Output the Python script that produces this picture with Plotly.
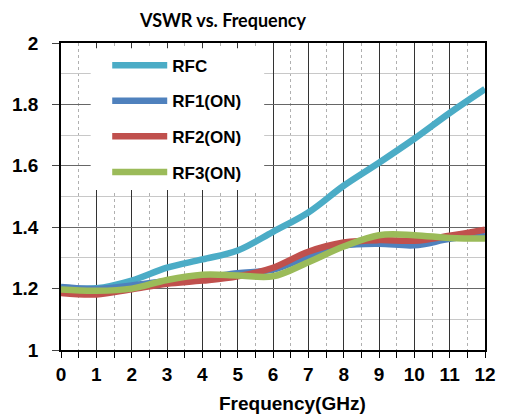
import plotly.graph_objects as go

freq = [0, 1, 2, 3, 4, 5, 6, 7, 8, 9, 10, 11, 12]
rfc = [1.204, 1.201, 1.226, 1.268, 1.295, 1.324, 1.385, 1.448, 1.535, 1.610, 1.688, 1.772, 1.850]
rf1 = [1.205, 1.199, 1.210, 1.225, 1.235, 1.250, 1.262, 1.305, 1.340, 1.346, 1.341, 1.362, 1.376]
rf2 = [1.186, 1.181, 1.198, 1.216, 1.226, 1.240, 1.268, 1.320, 1.350, 1.358, 1.356, 1.372, 1.392]
rf3 = [1.197, 1.193, 1.200, 1.228, 1.245, 1.243, 1.240, 1.286, 1.337, 1.374, 1.374, 1.365, 1.363]

series = [
    ("RFC", rfc, "#4BACC6"),
    ("RF1(ON)", rf1, "#4F81BD"),
    ("RF2(ON)", rf2, "#C0504D"),
    ("RF3(ON)", rf3, "#9BBB59"),
]

fig = go.Figure()
for name, vals, color in series:
    fig.add_trace(go.Scatter(
        x=freq, y=vals, name="<b>" + name + "</b>", mode="lines", legendgroup=name,
        line=dict(color=color, width=6.5, shape="spline", smoothing=1.0),
    ))

# white box behind the legend (covers gridlines)
fig.add_shape(type="rect", xref="x", yref="y", x0=0.84, x1=5.75, y0=1.521, y1=1.983,
              fillcolor="white", line=dict(width=0), layer="between")

font_main = "Liberation Sans, Arial, sans-serif"

fig.update_layout(
    width=508, height=414,
    margin=dict(l=59, r=13, t=43, b=64),
    paper_bgcolor="white", plot_bgcolor="white",
    title=dict(text="<b>VSWR vs. Frequency</b>", x=223 / 508, xanchor="center", xref="container",
               y=1 - 21 / 414, yanchor="middle", yref="container",
               font=dict(family="Lato, Open Sans, sans-serif", size=18, color="black")),
    legend=dict(x=0.109, y=0.985, xanchor="left", yanchor="top",
                bgcolor="rgba(0,0,0,0)", borderwidth=0, itemwidth=55,
                tracegroupgap=10.5, traceorder="grouped",
                font=dict(family=font_main, size=17, color="black")),
    showlegend=True,
    annotations=[dict(text="<b>Frequency(GHz)</b>", xref="paper", yref="paper",
                      x=(297.5 - 59.5) / 435.5, y=-(403 - 349.7) / 306.7,
                      xanchor="center", yanchor="middle", showarrow=False,
                      font=dict(family=font_main, size=19, color="black"))],
)

fig.update_xaxes(
    range=[0, 12], dtick=1, tick0=0,
    showline=True, linecolor="black", linewidth=1.5, mirror=True,
    showgrid=True, gridcolor="#333333", gridwidth=1,
    ticks="outside", ticklen=6, tickcolor="black", tickwidth=1,
    minor=dict(dtick=0.5, showgrid=True, gridcolor="#b0b0b0", griddash="dot", gridwidth=1,
               ticks="outside", ticklen=6, tickcolor="black"),
    zeroline=False,
    tickfont=dict(family=font_main, size=19, color="black", weight=700),
    ticklabelstandoff=0,
)
fig.update_yaxes(
    range=[1, 2], dtick=0.2, tick0=1,
    showline=True, linecolor="black", linewidth=1.5, mirror=True,
    showgrid=True, gridcolor="#666666", gridwidth=1,
    ticks="outside", ticklen=7, tickcolor="#444444", tickwidth=1,
    minor=dict(dtick=0.1, showgrid=True, gridcolor="#c8c8c8", gridwidth=1),
    zeroline=False,
    tickfont=dict(family=font_main, size=19, color="black", weight=700),
    ticklabelstandoff=10,
)

fig.write_html("out.html")
